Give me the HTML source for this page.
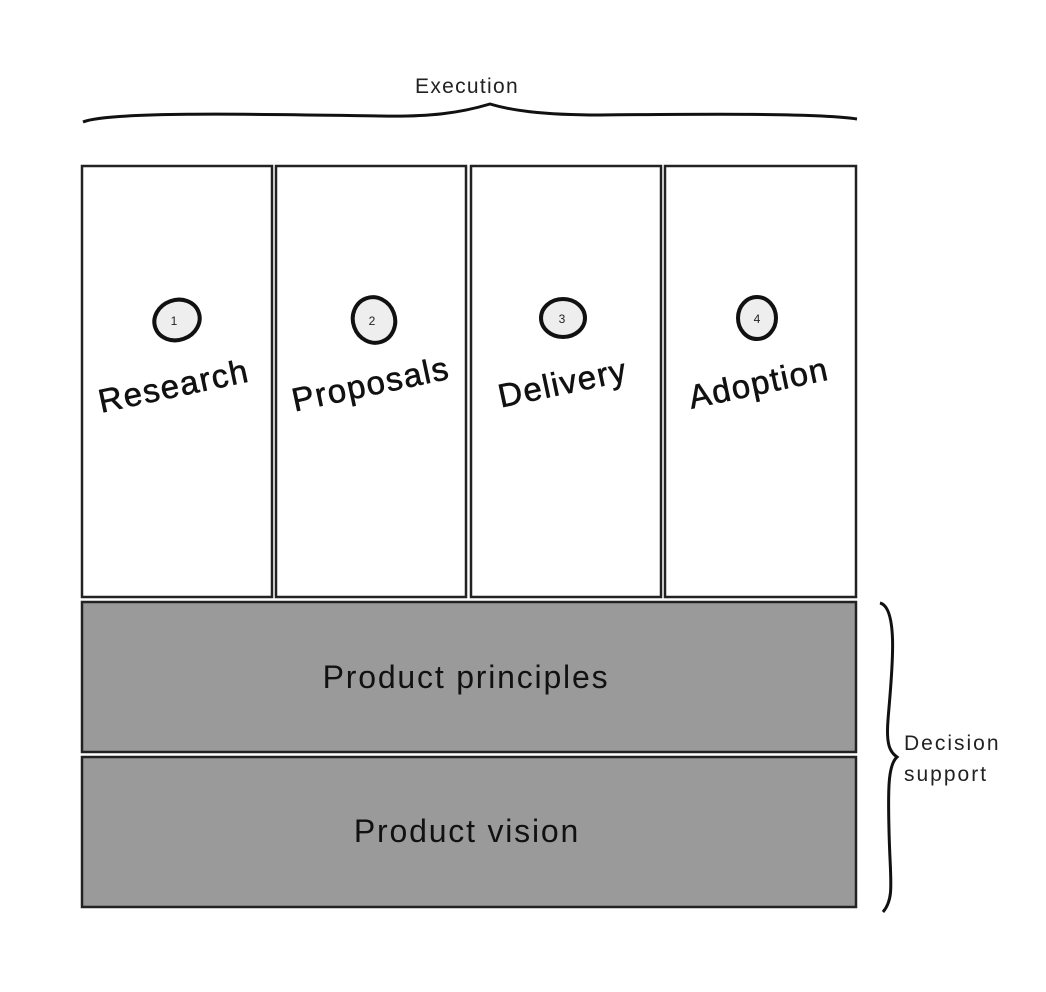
<!DOCTYPE html>
<html><head><style>body{margin:0;background:#fff}svg{display:block}</style></head><body>
<svg width="1046" height="992" viewBox="0 0 1046 992" xmlns="http://www.w3.org/2000/svg" font-family="Liberation Sans, sans-serif">
<rect width="1046" height="992" fill="#fff"/>
<text x="467" y="93" font-size="21" letter-spacing="1.3" text-anchor="middle" fill="#222">Execution</text>
<path d="M83 122 C110 110 300 115 380 116 C430 117 460 113 490 104 C510 110 540 115 600 115 C700 114 820 113 857 119" fill="none" stroke="#111" stroke-width="3"/>
<g fill="#fff" stroke="#222" stroke-width="2.5">
<rect x="82" y="166" width="190" height="431"/>
<rect x="276" y="166" width="190" height="431"/>
<rect x="471" y="166" width="190" height="431"/>
<rect x="665" y="166" width="191" height="431"/>
</g>
<g fill="#9a9a9a" stroke="#222" stroke-width="2.5">
<rect x="82" y="602" width="774" height="150"/>
<rect x="82" y="757" width="774" height="150"/>
</g>
<g fill="#eee" stroke="#111" stroke-width="4">
<ellipse cx="177" cy="320" rx="23" ry="20" transform="rotate(-20 177 320)"/>
<ellipse cx="374" cy="320" rx="21" ry="23" transform="rotate(-20 374 320)"/>
<ellipse cx="563" cy="318" rx="22" ry="19"/>
<ellipse cx="757" cy="318" rx="19" ry="21"/>
</g>
<g font-size="12" text-anchor="middle" fill="#222">
<text x="174" y="325">1</text><text x="372" y="325">2</text><text x="562" y="323">3</text><text x="757" y="323">4</text>
</g>
<g font-size="33" letter-spacing="1.5" text-anchor="middle" fill="#111" stroke="#111" stroke-width="0.6">
<text transform="translate(176 397) rotate(-12)">Research</text>
<text transform="translate(373 395) rotate(-12)">Proposals</text>
<text transform="translate(565 394) rotate(-12)">Delivery</text>
<text transform="translate(761 394) rotate(-12)">Adoption</text>
</g>
<g font-size="32" letter-spacing="1.8" text-anchor="middle" fill="#111">
<text x="466" y="688">Product principles</text>
<text x="467" y="842">Product vision</text>
</g>
<path d="M880 603 C900 608 891 680 888 720 C886 745 890 752 897 757 C888 765 888 790 889 830 C890 880 895 898 883 912" fill="none" stroke="#111" stroke-width="3"/>
<g font-size="21" letter-spacing="2" fill="#222">
<text x="904" y="750">Decision</text>
<text x="904" y="781">support</text>
</g>
</svg>
</body></html>
